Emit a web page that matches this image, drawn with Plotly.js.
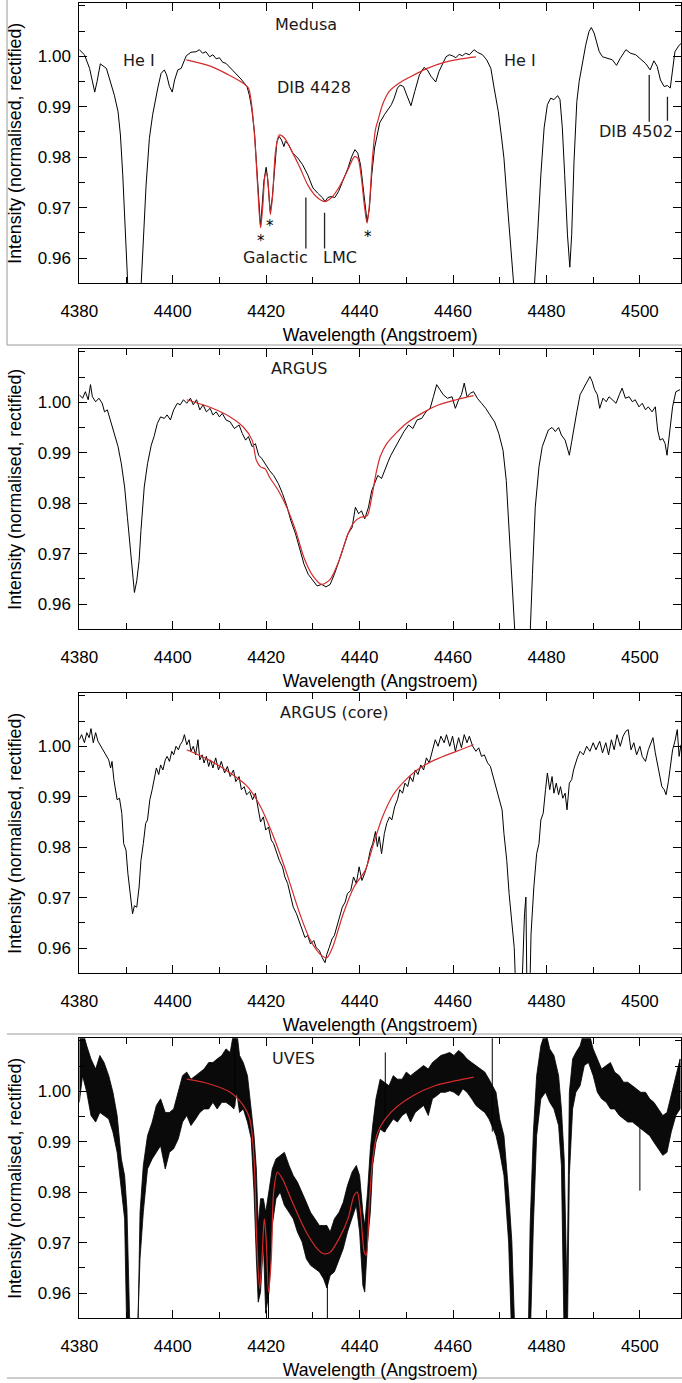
<!DOCTYPE html>
<html><head><meta charset="utf-8">
<script src="https://cdn.plot.ly/plotly-3.0.1.min.js"></script>
<style>html,body{margin:0;padding:0;background:#fff;}#chart{width:682px;height:1383px;}</style>
</head><body><div id="chart"></div>
<script>
// ---------- axis tick values ----------
const xTickVals = [4380, 4400, 4420, 4440, 4460, 4480, 4500];
const yTickVals = [0.96, 0.97, 0.98, 0.99, 1.00];
const panelLabels = ["Medusa", "ARGUS", "ARGUS (core)", "UVES"];
const panelLabelWave = [4428.6, 4427.1, 4434.6, 4425.8];
const panelLabelFlux = [1.0062, 1.0066, 1.0067, 1.0065];

// ---------- Medusa ----------
const medusaWave = [4380.0,4381.1,4382.2,4383.3,4383.8,4384.5,4385.8,4386.5,4387.5,4388.3,4388.8,4389.3,4389.8,4390.3,4391.0,4391.8,4392.6,4393.2,4393.7,4394.3,4395.0,4395.7,4396.8,4397.5,4398.2,4398.7,4399.3,4399.9,4400.4,4401.1,4401.8,4402.4,4402.9,4403.9,4405.0,4405.7,4406.4,4407.1,4407.9,4408.6,4409.3,4410.0,4410.7,4411.4,4412.5,4413.6,4414.6,4415.4,4415.9,4416.4,4416.9,4417.5,4418.0,4418.4,4418.8,4419.1,4419.5,4420.0,4420.3,4420.7,4420.9,4421.3,4421.8,4422.3,4422.8,4423.3,4423.8,4424.1,4424.8,4425.7,4426.8,4427.8,4428.9,4430.0,4431.0,4432.1,4432.6,4433.2,4433.9,4434.7,4435.5,4436.4,4437.5,4438.3,4439.0,4439.6,4440.2,4440.7,4441.2,4441.6,4442.1,4442.6,4443.2,4443.7,4444.3,4445.3,4446.0,4446.8,4447.4,4448.1,4448.7,4449.4,4450.1,4451.0,4451.8,4452.8,4453.8,4454.5,4455.3,4456.3,4457.0,4457.8,4458.5,4459.2,4459.9,4460.6,4461.3,4462.0,4462.7,4463.5,4464.5,4465.2,4466.3,4467.2,4468.1,4468.8,4469.7,4470.4,4470.9,4471.7,4472.4,4472.7,4474.0,4475.1,4476.3,4477.5,4478.1,4478.8,4479.5,4480.2,4480.9,4481.6,4482.4,4482.9,4483.4,4483.9,4484.5,4485.0,4485.4,4485.9,4486.5,4487.0,4487.7,4488.4,4489.1,4489.6,4490.2,4490.8,4491.3,4492.0,4493.0,4494.1,4495.0,4495.8,4497.0,4498.0,4499.1,4500.2,4501.2,4502.2,4503.0,4503.7,4504.4,4505.2,4505.9,4506.5,4507.0,4507.5,4508.4,4508.8];
const medusaFlux = [1.0013,1.0003,0.9976,0.9929,0.9950,0.9985,0.9976,0.9956,0.9923,0.9890,0.9844,0.9765,0.9646,0.9540,0.9420,0.9380,0.9430,0.9540,0.9646,0.9745,0.9837,0.9884,0.9937,0.9966,0.9973,0.9963,0.9940,0.9929,0.9953,0.9973,0.9976,0.9990,1.0001,1.0008,1.0009,1.0013,1.0006,1.0009,0.9999,1.0003,0.9995,0.9997,0.9988,0.9986,0.9976,0.9966,0.9955,0.9946,0.9940,0.9923,0.9897,0.9850,0.9778,0.9699,0.9662,0.9699,0.9752,0.9780,0.9759,0.9712,0.9692,0.9719,0.9785,0.9831,0.9841,0.9834,0.9821,0.9831,0.9825,0.9808,0.9798,0.9785,0.9765,0.9739,0.9729,0.9719,0.9712,0.9720,0.9722,0.9720,0.9732,0.9752,0.9778,0.9801,0.9815,0.9808,0.9785,0.9745,0.9699,0.9672,0.9699,0.9765,0.9818,0.9844,0.9868,0.9884,0.9894,0.9904,0.9917,0.9937,0.9943,0.9940,0.9923,0.9902,0.9930,0.9963,0.9978,0.9973,0.9960,0.9949,0.9970,0.9986,0.9999,1.0003,1.0001,0.9997,1.0004,1.0001,1.0006,1.0003,1.0013,1.0008,1.0003,0.9993,0.9976,0.9937,0.9890,0.9838,0.9798,0.9699,0.9594,0.9540,0.9350,0.9300,0.9380,0.9547,0.9646,0.9765,0.9858,0.9904,0.9917,0.9914,0.9922,0.9914,0.9858,0.9765,0.9646,0.9582,0.9646,0.9792,0.9910,0.9950,0.9989,1.0022,1.0049,1.0057,1.0046,1.0026,1.0009,0.9999,0.9996,0.9993,0.9982,0.9996,1.0013,1.0006,1.0003,0.9995,0.9986,0.9973,0.9991,0.9980,0.9953,0.9940,0.9942,0.9937,0.9976,1.0009,1.0022,1.0025];
const medusaFitWave = [4402.9,4408.2,4411.8,4415.0,4416.2,4416.8,4417.5,4418.2,4418.8,4419.3,4419.8,4420.1,4420.5,4420.9,4421.4,4422.0,4422.8,4423.9,4425.3,4427.1,4428.9,4430.7,4432.5,4433.9,4435.7,4437.5,4438.9,4439.6,4440.3,4441.0,4441.6,4442.1,4442.7,4443.4,4444.0,4444.9,4446.3,4448.5,4451.0,4454.5,4458.1,4461.7,4464.9];
const medusaFitFlux = [0.9993,0.9980,0.9964,0.9947,0.9937,0.9910,0.9844,0.9739,0.9660,0.9706,0.9765,0.9768,0.9739,0.9686,0.9726,0.9811,0.9844,0.9838,0.9815,0.9782,0.9745,0.9722,0.9712,0.9719,0.9742,0.9775,0.9801,0.9798,0.9765,0.9706,0.9669,0.9706,0.9792,0.9855,0.9875,0.9904,0.9930,0.9947,0.9960,0.9976,0.9988,0.9995,0.9999];

// ---------- ARGUS ----------
const argusWave = [4380.0,4380.7,4381.3,4381.9,4382.4,4382.8,4383.5,4384.2,4384.9,4385.4,4386.0,4386.5,4387.2,4387.7,4388.3,4389.0,4389.7,4390.3,4390.9,4391.4,4391.8,4392.3,4392.8,4393.2,4393.9,4394.6,4395.4,4396.0,4396.7,4397.4,4398.2,4398.8,4399.5,4400.2,4401.0,4401.6,4402.3,4403.0,4403.8,4404.4,4405.1,4405.8,4406.5,4407.2,4408.0,4408.6,4409.3,4410.0,4410.6,4411.4,4412.3,4413.2,4414.2,4414.9,4415.6,4416.2,4417.0,4417.7,4418.4,4419.1,4420.0,4420.7,4421.6,4422.6,4423.5,4424.4,4425.3,4426.3,4427.2,4428.1,4429.0,4430.0,4430.9,4431.9,4432.8,4433.7,4434.6,4435.6,4436.5,4437.5,4438.4,4439.1,4439.8,4440.4,4441.1,4441.9,4442.6,4443.2,4443.9,4444.7,4445.3,4446.1,4446.7,4447.7,4448.6,4449.5,4450.5,4451.4,4452.3,4453.3,4454.2,4455.1,4455.8,4456.5,4457.2,4457.9,4458.8,4459.8,4460.5,4461.2,4461.8,4462.4,4463.0,4463.7,4464.4,4465.2,4466.1,4467.0,4467.9,4468.9,4469.8,4470.7,4471.4,4472.0,4472.8,4473.2,4474.5,4475.3,4476.0,4476.5,4477.0,4477.6,4478.4,4479.1,4479.8,4480.4,4481.2,4481.9,4482.6,4483.2,4484.0,4484.4,4484.9,4485.4,4485.8,4486.5,4487.2,4488.1,4488.8,4489.3,4489.8,4490.3,4490.9,4491.4,4492.1,4492.8,4493.4,4494.2,4494.9,4495.6,4496.2,4496.9,4497.7,4498.4,4499.0,4499.8,4500.5,4501.2,4501.8,4502.6,4503.3,4503.8,4504.3,4504.9,4505.4,4505.8,4506.3,4507.0,4507.7,4508.6];
const argusFlux = [1.0015,1.0008,1.0021,1.0005,1.0035,1.0011,1.0001,1.0008,0.9998,0.9981,0.9985,0.9968,0.9948,0.9932,0.9912,0.9878,0.9832,0.9772,0.9712,0.9659,0.9623,0.9646,0.9686,0.9746,0.9832,0.9878,0.9915,0.9932,0.9958,0.9971,0.9968,0.9975,0.9965,0.9985,0.9998,0.9995,1.0005,0.9998,1.0008,0.9995,1.0005,0.9985,0.9995,0.9981,0.9988,0.9975,0.9981,0.9971,0.9978,0.9965,0.9961,0.9948,0.9955,0.9938,0.9925,0.9932,0.9912,0.9918,0.9895,0.9888,0.9875,0.9865,0.9855,0.9839,0.9819,0.9795,0.9765,0.9739,0.9709,0.9679,0.9659,0.9646,0.9636,0.9639,0.9634,0.9639,0.9659,0.9686,0.9712,0.9739,0.9752,0.9792,0.9779,0.9785,0.9769,0.9792,0.9825,0.9839,0.9855,0.9849,0.9865,0.9882,0.9895,0.9912,0.9925,0.9942,0.9955,0.9948,0.9965,0.9968,0.9981,0.9988,1.0011,1.0035,1.0025,1.0015,1.0008,1.0011,0.9988,1.0005,1.0015,1.0038,1.0011,1.0018,1.0021,1.0008,0.9998,0.9988,0.9975,0.9961,0.9938,0.9905,0.9845,0.9739,0.9606,0.9550,0.9400,0.9380,0.9420,0.9550,0.9659,0.9792,0.9872,0.9912,0.9932,0.9945,0.9950,0.9942,0.9950,0.9935,0.9925,0.9912,0.9895,0.9922,0.9945,0.9981,1.0015,1.0031,1.0041,1.0051,1.0041,1.0025,1.0015,0.9988,1.0008,1.0001,1.0011,1.0005,0.9998,1.0015,1.0028,1.0008,1.0011,1.0001,1.0005,0.9991,0.9998,0.9985,0.9991,0.9981,0.9991,0.9945,0.9925,0.9928,0.9918,0.9895,0.9938,0.9991,1.0021,1.0025];
const argusFitWave = [4403.0,4407.7,4412.3,4415.1,4417.0,4417.9,4418.8,4419.8,4420.7,4422.6,4424.4,4426.3,4428.1,4430.0,4431.9,4433.7,4435.6,4437.5,4438.8,4440.2,4441.6,4442.6,4443.5,4444.4,4445.8,4447.7,4450.0,4453.3,4457.0,4460.7,4464.4];
const argusFitFlux = [1.0005,0.9991,0.9971,0.9951,0.9925,0.9885,0.9872,0.9868,0.9852,0.9825,0.9792,0.9746,0.9692,0.9656,0.9639,0.9649,0.9686,0.9739,0.9762,0.9772,0.9775,0.9812,0.9858,0.9892,0.9918,0.9938,0.9958,0.9978,0.9995,1.0005,1.0013];

// ---------- ARGUS (core) ----------
const coreWave = [4380.0,4380.5,4381.1,4381.6,4382.1,4382.5,4383.0,4383.5,4384.0,4384.6,4385.1,4385.8,4386.3,4386.7,4387.0,4387.4,4387.8,4388.1,4388.6,4389.1,4389.5,4390.0,4390.4,4390.9,4391.4,4391.8,4392.3,4392.8,4393.2,4393.7,4394.2,4394.6,4395.1,4395.6,4396.0,4396.5,4397.0,4397.4,4397.9,4398.4,4398.8,4399.3,4399.8,4400.2,4400.7,4401.2,4401.6,4402.1,4402.5,4403.0,4403.5,4403.9,4404.4,4404.9,4405.4,4405.8,4406.3,4406.7,4407.2,4407.7,4408.1,4408.6,4409.2,4409.8,4410.4,4411.1,4411.7,4412.3,4413.0,4413.5,4414.2,4414.7,4415.3,4415.8,4416.5,4417.1,4417.7,4418.4,4418.8,4419.4,4419.9,4420.5,4421.1,4421.6,4422.3,4422.8,4423.5,4424.0,4424.6,4425.2,4425.8,4426.5,4427.0,4427.7,4428.3,4428.9,4429.5,4430.2,4430.7,4431.4,4432.0,4432.6,4433.0,4433.5,4434.1,4434.6,4435.2,4435.8,4436.3,4436.9,4437.4,4438.1,4438.7,4439.3,4439.9,4440.5,4441.1,4441.7,4442.3,4442.8,4443.4,4443.8,4444.2,4444.7,4445.3,4445.8,4446.4,4446.9,4447.5,4448.1,4448.6,4449.2,4449.7,4450.3,4450.8,4451.4,4451.9,4452.5,4453.1,4453.7,4454.3,4454.9,4455.6,4456.2,4456.8,4457.4,4458.1,4458.6,4459.3,4459.9,4460.5,4461.2,4461.8,4462.4,4463.0,4463.5,4464.2,4464.9,4465.5,4466.1,4466.7,4467.4,4468.0,4468.6,4469.2,4469.8,4470.5,4470.9,4471.5,4472.0,4472.6,4473.1,4473.3,4474.5,4475.3,4475.6,4475.9,4476.3,4476.7,4477.3,4477.9,4478.4,4478.8,4479.3,4479.8,4480.2,4480.7,4481.2,4481.6,4482.1,4482.6,4483.0,4483.5,4484.0,4484.4,4484.9,4485.4,4485.8,4486.6,4487.2,4487.9,4488.6,4489.3,4490.0,4490.6,4491.4,4492.0,4492.7,4493.3,4493.9,4494.5,4495.1,4495.8,4496.4,4497.0,4497.5,4498.1,4498.7,4499.3,4500.0,4500.5,4501.2,4501.8,4502.4,4502.8,4503.3,4503.8,4504.3,4504.7,4505.2,4505.6,4506.1,4506.6,4507.0,4507.5,4508.0,4508.4,4508.8];
const coreFlux = [1.0013,1.0023,1.0007,1.0027,1.0017,1.0035,1.0007,1.0027,1.0010,1.0000,0.9990,0.9980,0.9973,0.9957,0.9970,0.9934,0.9914,0.9894,0.9897,0.9867,0.9807,0.9794,0.9748,0.9708,0.9668,0.9684,0.9681,0.9721,0.9774,0.9807,0.9847,0.9854,0.9894,0.9914,0.9934,0.9957,0.9944,0.9963,0.9953,0.9973,0.9980,0.9970,0.9990,0.9983,1.0000,0.9993,1.0003,1.0010,1.0023,1.0003,1.0013,0.9990,1.0000,0.9983,1.0013,0.9973,0.9983,0.9967,0.9980,0.9960,0.9973,0.9957,0.9977,0.9953,0.9970,0.9947,0.9960,0.9940,0.9953,0.9930,0.9940,0.9914,0.9920,0.9904,0.9910,0.9894,0.9907,0.9867,0.9850,0.9860,0.9834,0.9840,0.9814,0.9807,0.9787,0.9774,0.9761,0.9741,0.9728,0.9701,0.9681,0.9668,0.9654,0.9635,0.9621,0.9625,0.9608,0.9615,0.9601,0.9595,0.9581,0.9571,0.9588,0.9601,0.9618,0.9625,0.9645,0.9661,0.9681,0.9691,0.9708,0.9714,0.9741,0.9728,0.9761,0.9734,0.9748,0.9767,0.9794,0.9807,0.9831,0.9801,0.9821,0.9787,0.9827,0.9847,0.9860,0.9854,0.9880,0.9894,0.9914,0.9907,0.9927,0.9920,0.9940,0.9930,0.9953,0.9944,0.9963,0.9953,0.9977,0.9967,0.9993,1.0013,1.0000,1.0020,1.0007,1.0023,1.0000,1.0020,0.9990,1.0017,0.9997,1.0023,1.0007,1.0020,1.0000,0.9990,0.9997,0.9980,0.9983,0.9967,0.9960,0.9940,0.9920,0.9900,0.9874,0.9827,0.9774,0.9708,0.9654,0.9601,0.9550,0.9450,0.9668,0.9701,0.9450,0.9450,0.9628,0.9721,0.9787,0.9807,0.9854,0.9867,0.9914,0.9947,0.9914,0.9940,0.9907,0.9927,0.9904,0.9920,0.9897,0.9907,0.9874,0.9927,0.9934,0.9953,0.9977,0.9990,0.9983,1.0000,0.9990,1.0007,0.9993,1.0010,0.9987,1.0007,0.9983,1.0013,0.9993,1.0023,1.0000,1.0020,1.0030,1.0033,0.9993,1.0007,0.9983,1.0000,0.9980,0.9970,0.9993,1.0007,1.0017,0.9987,0.9960,0.9940,0.9920,0.9914,0.9904,0.9930,0.9960,0.9993,1.0010,1.0033,0.9980,1.0003];
const coreFitWave = [4403.0,4407.7,4412.3,4416.0,4418.8,4421.6,4424.4,4427.2,4429.5,4431.9,4433.0,4434.2,4436.5,4438.8,4441.2,4443.0,4444.9,4447.2,4449.5,4452.3,4456.1,4460.7,4464.4];
const coreFitFlux = [0.9993,0.9973,0.9947,0.9920,0.9880,0.9820,0.9748,0.9668,0.9615,0.9585,0.9581,0.9601,0.9668,0.9721,0.9754,0.9807,0.9860,0.9904,0.9930,0.9953,0.9973,0.9990,1.0003];

// ---------- UVES (noise band: upper / lower envelope) ----------
const uvesWave = [4380.0,4380.7,4381.6,4382.5,4383.5,4384.4,4385.3,4386.3,4387.2,4388.1,4389.0,4389.7,4390.2,4390.9,4392.0,4392.6,4393.0,4393.7,4394.6,4395.6,4396.5,4397.4,4398.4,4399.3,4400.2,4401.2,4402.1,4403.0,4403.9,4404.9,4405.8,4406.7,4407.7,4408.6,4409.5,4410.5,4411.4,4412.3,4413.1,4413.7,4414.3,4415.1,4416.0,4416.8,4417.4,4417.9,4418.3,4418.8,4419.4,4419.9,4420.6,4421.3,4422.1,4423.0,4423.9,4424.9,4425.8,4426.7,4427.7,4428.6,4429.5,4430.5,4431.4,4432.3,4433.0,4433.7,4434.6,4435.6,4436.5,4437.4,4438.4,4439.3,4440.0,4440.7,4441.1,4441.7,4442.3,4442.8,4443.5,4444.4,4445.3,4446.3,4447.2,4448.1,4449.1,4450.0,4450.9,4451.9,4452.8,4453.7,4454.7,4455.6,4456.5,4457.4,4458.4,4459.3,4460.2,4461.2,4462.1,4463.0,4464.0,4464.9,4465.8,4466.8,4467.7,4469.2,4470.0,4470.9,4471.9,4472.6,4473.3,4476.0,4476.5,4477.2,4477.9,4478.8,4479.8,4480.7,4481.6,4482.6,4483.2,4483.8,4484.4,4484.9,4485.6,4486.3,4487.2,4488.1,4489.0,4490.0,4490.9,4491.8,4492.8,4493.7,4494.6,4495.6,4496.5,4497.4,4498.4,4499.3,4500.2,4501.2,4502.1,4503.0,4503.9,4504.9,4505.8,4506.7,4507.7,4508.6];
const uvesUpper = [1.0120,1.0120,1.0090,1.0064,1.0044,1.0071,1.0057,1.0031,0.9998,0.9952,0.9866,0.9833,0.9767,0.9500,0.9450,0.9550,0.9760,0.9853,0.9912,0.9939,0.9972,0.9985,0.9958,0.9958,0.9965,0.9998,1.0031,1.0038,1.0024,1.0031,1.0038,1.0044,1.0057,1.0057,1.0064,1.0071,1.0084,1.0077,1.0120,1.0120,1.0071,1.0057,1.0031,0.9965,0.9912,0.9846,0.9734,0.9787,0.9787,0.9760,0.9800,0.9846,0.9866,0.9872,0.9879,0.9853,0.9833,0.9820,0.9800,0.9780,0.9760,0.9747,0.9734,0.9734,0.9734,0.9721,0.9747,0.9760,0.9780,0.9813,0.9840,0.9853,0.9833,0.9760,0.9734,0.9800,0.9886,0.9932,0.9985,1.0024,1.0018,1.0011,1.0031,1.0024,1.0024,1.0038,1.0031,1.0038,1.0044,1.0051,1.0044,1.0057,1.0064,1.0071,1.0074,1.0077,1.0071,1.0081,1.0074,1.0064,1.0057,1.0051,1.0044,1.0038,1.0024,0.9998,0.9945,0.9912,0.9800,0.9701,0.9500,0.9450,0.9734,0.9919,1.0031,1.0090,1.0120,1.0084,1.0071,1.0031,0.9965,0.9866,0.9600,0.9998,1.0064,1.0077,1.0090,1.0120,1.0120,1.0084,1.0064,1.0044,1.0051,1.0057,1.0038,1.0031,1.0018,1.0018,1.0011,1.0005,0.9998,0.9998,0.9985,0.9978,0.9965,0.9952,0.9958,0.9991,1.0031,1.0064];
const uvesLower = [0.9978,1.0031,0.9998,0.9952,0.9939,0.9958,0.9952,0.9945,0.9919,0.9879,0.9800,0.9747,0.9500,0.9400,0.9400,0.9450,0.9668,0.9760,0.9846,0.9866,0.9879,0.9892,0.9846,0.9879,0.9886,0.9906,0.9939,0.9952,0.9932,0.9945,0.9958,0.9965,0.9965,0.9978,0.9965,0.9978,0.9978,0.9972,0.9965,0.9998,0.9958,0.9965,0.9939,0.9906,0.9800,0.9668,0.9582,0.9602,0.9701,0.9560,0.9602,0.9734,0.9787,0.9800,0.9774,0.9760,0.9747,0.9721,0.9701,0.9668,0.9655,0.9648,0.9642,0.9628,0.9610,0.9635,0.9642,0.9668,0.9688,0.9721,0.9747,0.9774,0.9721,0.9615,0.9602,0.9701,0.9760,0.9853,0.9899,0.9925,0.9919,0.9932,0.9945,0.9939,0.9952,0.9958,0.9939,0.9958,0.9965,0.9972,0.9952,0.9985,0.9991,0.9998,0.9998,1.0001,0.9998,0.9991,1.0005,0.9998,0.9985,0.9972,0.9965,0.9958,0.9945,0.9912,0.9879,0.9833,0.9701,0.9500,0.9400,0.9400,0.9500,0.9734,0.9912,0.9985,0.9998,0.9978,0.9965,0.9932,0.9853,0.9500,0.9450,0.9833,0.9965,0.9998,1.0011,1.0051,1.0057,1.0031,0.9998,0.9985,0.9978,0.9965,0.9965,0.9952,0.9945,0.9939,0.9939,0.9932,0.9925,0.9919,0.9912,0.9899,0.9886,0.9873,0.9879,0.9919,0.9952,0.9965];
const uvesSpikeWave = [4413.3, 4420.5, 4433.1, 4445.5, 4468.4, 4500.0];
const uvesSpikeLow  = [0.9970, 0.9500, 0.9500, 0.9920, 0.9920, 0.9803];
const uvesSpikeHigh = [1.0120, 0.9750, 0.9640, 1.0077, 1.0120, 0.9930];
const uvesFitWave = [4403.0,4407.7,4412.3,4415.1,4416.5,4417.4,4418.0,4418.6,4419.1,4419.6,4420.0,4420.5,4421.1,4421.6,4422.4,4423.5,4425.3,4427.2,4429.0,4430.9,4432.3,4433.7,4435.6,4437.5,4438.8,4439.5,4440.2,4441.0,4441.4,4442.1,4442.8,4443.9,4446.7,4451.4,4456.1,4460.7,4464.4];
const uvesFitFlux = [1.0024,1.0015,0.9998,0.9972,0.9945,0.9866,0.9701,0.9609,0.9668,0.9747,0.9708,0.9602,0.9668,0.9800,0.9840,0.9826,0.9787,0.9747,0.9714,0.9688,0.9678,0.9681,0.9708,0.9747,0.9793,0.9800,0.9760,0.9681,0.9675,0.9780,0.9866,0.9919,0.9958,0.9991,1.0011,1.0021,1.0028];

// ---------- Medusa annotations ----------
const medusaNotes = ["He I", "DIB 4428", "Galactic", "LMC", "He I", "DIB 4502"];
const medusaNoteWave = [4392.8, 4430.3, 4421.9, 4435.9, 4474.3, 4499.1];
const medusaNoteFlux = [0.9991, 0.9939, 0.9601, 0.9601, 0.9991, 0.9851];
const starWave = [4418.8, 4420.8, 4441.8];
const starFlux = [0.9639, 0.9669, 0.9648];
const markWave = [4428.5, 4432.5, 4502.0, 4505.9];
const markTop = [0.9720, 0.9690, 0.9963, 0.9920];
const markBottom = [0.9619, 0.9619, 0.9870, 0.9872];

// ---------- build ----------
const W = 682, H = 1383;
const plotTop = [3.3, 349.3, 693.3, 1038.3];
const plotH = 280;
const xDomain = [79.3 / W, 681 / W];
const BLACK = '#000000', RED = '#d42a2a';
const tickFont = {family: 'Liberation Sans, Arial, sans-serif', size: 17, color: '#000'};
const titleFont = {family: 'Liberation Sans, Arial, sans-serif', size: 17.7, color: '#000'};
const noteFont = {family: 'DejaVu Sans, sans-serif', size: 16, color: '#1a1a1a'};

const traces = [];
function line(x, y, i, color, width, shape) {
  traces.push({type: 'scatter', mode: 'lines', x: x, y: y, xaxis: i ? 'x' + (i + 1) : 'x', yaxis: i ? 'y' + (i + 1) : 'y',
    line: {color: color, width: width, shape: shape || 'linear', smoothing: 0.8}, hoverinfo: 'skip', showlegend: false});
}
line(medusaWave, medusaFlux, 0, BLACK, 1);
line(medusaFitWave, medusaFitFlux, 0, RED, 1.2, 'spline');
line(argusWave, argusFlux, 1, BLACK, 1);
line(argusFitWave, argusFitFlux, 1, RED, 1.2, 'spline');
line(coreWave, coreFlux, 2, BLACK, 1);
line(coreFitWave, coreFitFlux, 2, RED, 1.2, 'spline');
// UVES band polygon
traces.push({type: 'scatter', mode: 'lines', xaxis: 'x4', yaxis: 'y4',
  x: uvesWave.concat(uvesWave.slice().reverse()),
  y: uvesUpper.concat(uvesLower.slice().reverse()),
  fill: 'toself', fillcolor: '#0a0a0a', line: {color: BLACK, width: 0.8}, hoverinfo: 'skip', showlegend: false});
const spX = [], spY = [];
uvesSpikeWave.forEach((w, k) => { spX.push(w, w, null); spY.push(uvesSpikeLow[k], uvesSpikeHigh[k], null); });
line(spX, spY, 3, BLACK, 1);
line(uvesFitWave, uvesFitFlux, 3, RED, 1.2, 'spline');

const layout = {width: W, height: H, margin: {l: 0, r: 0, t: 0, b: 0}, paper_bgcolor: '#fff', plot_bgcolor: '#fff',
  showlegend: false, annotations: [], shapes: []};

for (let i = 0; i < 4; i++) {
  const xs = i ? 'xaxis' + (i + 1) : 'xaxis', ys = i ? 'yaxis' + (i + 1) : 'yaxis';
  const xr = i ? 'x' + (i + 1) : 'x', yr = i ? 'y' + (i + 1) : 'y';
  const top = 1 - plotTop[i] / H, bot = 1 - (plotTop[i] + plotH) / H;
  layout[xs] = {domain: xDomain, anchor: yr, range: [4380, 4508.8], tickmode: 'array', tickvals: xTickVals,
    ticks: 'inside', ticklen: 8, tickwidth: 1, tickcolor: '#000', showline: true, linecolor: '#000', linewidth: 1,
    mirror: 'ticks', showgrid: false, zeroline: false, tickfont: tickFont, ticklabelstandoff: 12,
    minor: {tickmode: 'linear', tick0: 4370, dtick: 10, ticks: 'inside', ticklen: 6, tickcolor: '#000', showgrid: false},
    title: {text: 'Wavelength (Angstroem)', font: titleFont, standoff: 8}};
  layout[ys] = {domain: [bot, top], anchor: xr, range: [0.955, 1.0105], tickmode: 'array', tickvals: yTickVals,
    tickformat: '.2f', ticks: 'inside', ticklen: 8, tickwidth: 1, tickcolor: '#000', showline: true, linecolor: '#000',
    linewidth: 1, mirror: 'ticks', showgrid: false, zeroline: false, tickfont: tickFont, ticklabelstandoff: 4,
    minor: {tickmode: 'linear', tick0: 0.955, dtick: 0.005, ticks: 'inside', ticklen: 6, tickcolor: '#000', showgrid: false},
    title: {text: 'Intensity (normalised, rectified)', font: titleFont, standoff: 11}};
  layout.annotations.push({xref: xr, yref: yr, x: panelLabelWave[i], y: panelLabelFlux[i], text: panelLabels[i],
    showarrow: false, font: noteFont, xanchor: 'center', yanchor: 'middle'});
}
medusaNotes.forEach((t, k) => layout.annotations.push({xref: 'x', yref: 'y', x: medusaNoteWave[k], y: medusaNoteFlux[k],
  text: t, showarrow: false, font: noteFont, xanchor: 'center', yanchor: 'middle'}));
starWave.forEach((w, k) => layout.annotations.push({xref: 'x', yref: 'y', x: w, y: starFlux[k], text: '*',
  showarrow: false, font: {family: 'DejaVu Sans, sans-serif', size: 15, color: '#000'}, xanchor: 'center', yanchor: 'middle', yshift: -3}));
markWave.forEach((w, k) => layout.shapes.push({type: 'line', xref: 'x', yref: 'y', x0: w, x1: w, y0: markBottom[k], y1: markTop[k],
  line: {color: '#222', width: 1.3}}));
// light grey frame lines of the original figure
const G = {color: '#9a9a9a', width: 1};
layout.shapes.push({type: 'line', xref: 'paper', yref: 'paper', x0: 7 / W, x1: 7 / W, y0: 1, y1: 1 - 345 / H, line: G});
layout.shapes.push({type: 'line', xref: 'paper', yref: 'paper', x0: 7 / W, x1: 1, y0: 1 - 345 / H, y1: 1 - 345 / H, line: G});
layout.shapes.push({type: 'line', xref: 'paper', yref: 'paper', x0: 7 / W, x1: 1, y0: 1 - 1034 / H, y1: 1 - 1034 / H, line: G});
layout.shapes.push({type: 'line', xref: 'paper', yref: 'paper', x0: 7 / W, x1: 1, y0: 1 - 1378 / H, y1: 1 - 1378 / H, line: G});

Plotly.newPlot('chart', traces, layout, {staticPlot: true, displayModeBar: false});
</script></body></html>
